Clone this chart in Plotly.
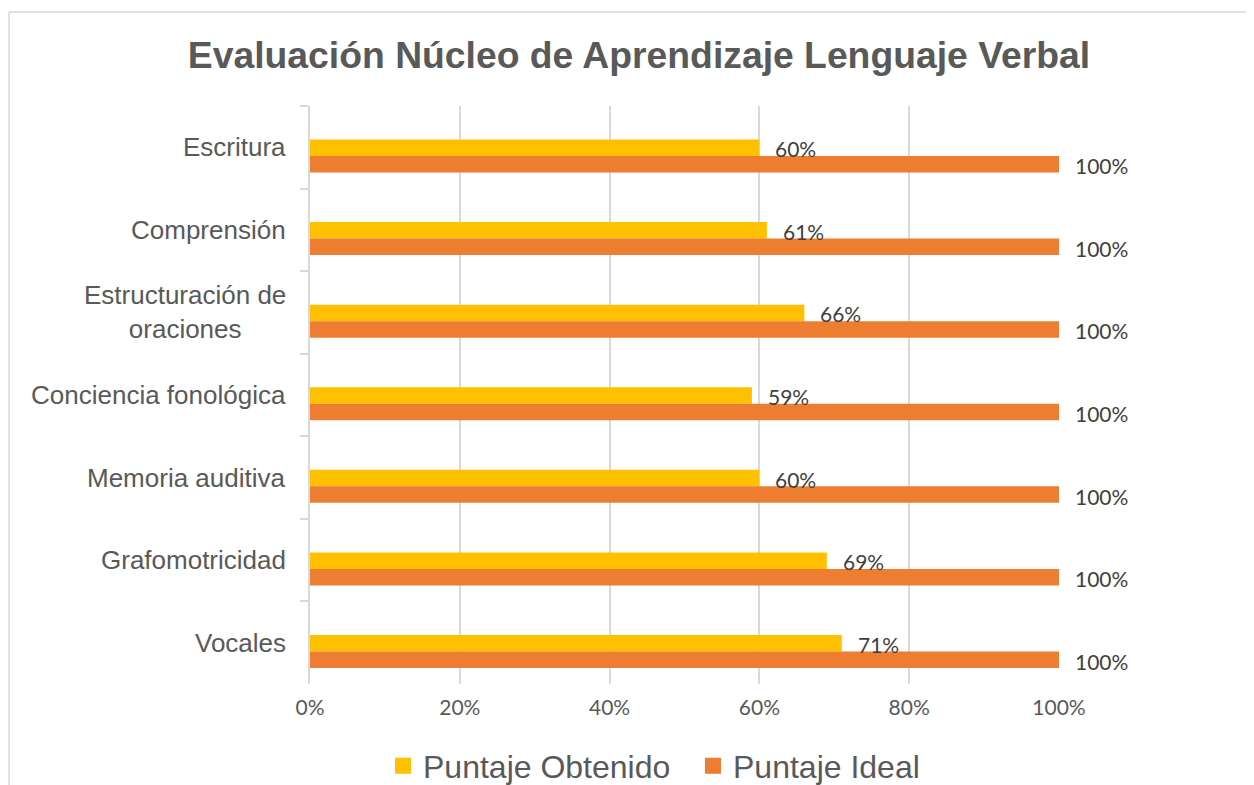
import plotly.graph_objects as go

# ---- data ----
categories = ["Escritura", "Comprensión", "Estructuración de oraciones",
              "Conciencia fonológica", "Memoria auditiva", "Grafomotricidad", "Vocales"]
category_labels = ["Escritura", "Comprensión", "Estructuración de<br>oraciones",
                   "Conciencia fonológica", "Memoria auditiva", "Grafomotricidad", "Vocales"]
puntaje_obtenido = [0.60, 0.61, 0.66, 0.59, 0.60, 0.69, 0.71]
puntaje_ideal = [1.00, 1.00, 1.00, 1.00, 1.00, 1.00, 1.00]
x_tick_vals = [0.0, 0.2, 0.4, 0.6, 0.8, 1.0]
x_tick_text = ["0%", "20%", "40%", "60%", "80%", "100%"]
series_names = ["Puntaje Obtenido", "Puntaje Ideal"]
title_text = "Evaluación Núcleo de Aprendizaje Lenguaje Verbal"

# ---- style ----
OFF = 8  # page body margin in the browser
W, H = 1254 - OFF, 785 - OFF
ML, MR, MT, MB = 310 - OFF, 195, 106 - OFF, 109 - OFF
PW, PH = W - ML - MR, H - MT - MB
YELLOW = "#FFC000"
ORANGE = "#ED7D31"
GRID = "#D9D9D9"
TXT = "#595959"
LBL = "#404040"
ARIAL = "Liberation Sans, Arial, sans-serif"
CAL = "Lato, Calibri, sans-serif"

fig = go.Figure()

fig.add_trace(go.Bar(x=puntaje_obtenido, y=categories, orientation="h",
                     marker=dict(color=YELLOW, line=dict(width=0)),
                     offset=-0.094, width=0.2, showlegend=False, hoverinfo="x+y"))
fig.add_trace(go.Bar(x=puntaje_ideal, y=categories, orientation="h",
                     marker=dict(color=ORANGE, line=dict(width=0)),
                     offset=0.106, width=0.2, showlegend=False, hoverinfo="x+y"))

# legend entries
for name, col in zip(series_names, [YELLOW, ORANGE]):
    fig.add_trace(go.Scatter(x=[None], y=[None], mode="markers", name=name,
                             marker=dict(symbol="square", size=16, color=col,
                                         line=dict(width=0))))

annotations = []
for cat, lab in zip(categories, category_labels):
    annotations.append(dict(x=0, xref="paper", y=cat, yref="y", text=lab,
                            xanchor="right", yanchor="middle", xshift=-22,
                            align="center", showarrow=False,
                            font=dict(family=ARIAL, size=26, color=TXT)))
for cat, v in zip(categories, puntaje_obtenido):
    annotations.append(dict(x=v, xref="x", y=cat, yref="y", text=f"{round(v*100)}%",
                            xanchor="left", yanchor="middle", xshift=14, yshift=-1.5,
                            showarrow=False, font=dict(family=CAL, size=21, color=LBL)))
for cat, v in zip(categories, puntaje_ideal):
    annotations.append(dict(x=v, xref="x", y=cat, yref="y", text=f"{round(v*100)}%",
                            xanchor="left", yanchor="middle", xshift=14, yshift=-18.5,
                            showarrow=False, font=dict(family=CAL, size=21, color=LBL)))

# chart-area border (top and left edges visible)
bx = (9 - OFF - ML) / PW
by = (H - MB - (12 - OFF)) / PH
shapes = [
    dict(type="line", xref="paper", yref="paper", x0=bx, x1=2.0, y0=by, y1=by,
         line=dict(color=GRID, width=1.5)),
    dict(type="line", xref="paper", yref="paper", x0=bx, x1=bx, y0=by, y1=-1.0,
         line=dict(color=GRID, width=1.5)),
]

fig.update_layout(
    width=W, height=H,
    margin=dict(l=ML, r=MR, t=MT, b=MB, autoexpand=False),
    paper_bgcolor="white", plot_bgcolor="white",
    barmode="overlay",
    title=dict(text=f"<b>{title_text}</b>", xref="container", yref="container",
               x=(639 - OFF) / W, y=1 - (55 - OFF) / H, xanchor="center", yanchor="middle",
               font=dict(family=ARIAL, size=37.3, color=TXT)),
    xaxis=dict(range=[0, 1], tickvals=x_tick_vals, ticktext=x_tick_text,
               showgrid=True, gridcolor=GRID, gridwidth=1.5, zeroline=False,
               showline=False, ticks="outside", ticklen=5, tickcolor="rgba(0,0,0,0)",
               tickfont=dict(family=CAL, size=21, color=TXT), fixedrange=True),
    yaxis=dict(type="category", categoryorder="array", categoryarray=categories,
               range=[6.5, -0.5], showticklabels=False, showgrid=False,
               showline=True, linecolor=GRID, linewidth=1.5,
               ticks="outside", tickson="boundaries", ticklen=8, tickcolor=GRID,
               tickwidth=1.5, zeroline=False, fixedrange=True),
    legend=dict(orientation="h", xref="container", yref="container",
                x=(383 - OFF) / W, y=1 - (766 - OFF) / H, xanchor="left", yanchor="middle",
                entrywidth=265, entrywidthmode="pixels",
                font=dict(family=ARIAL, size=32, color=TXT),
                itemclick=False, itemdoubleclick=False),
    annotations=annotations,
    shapes=shapes,
)

fig.write_html("out.html")
